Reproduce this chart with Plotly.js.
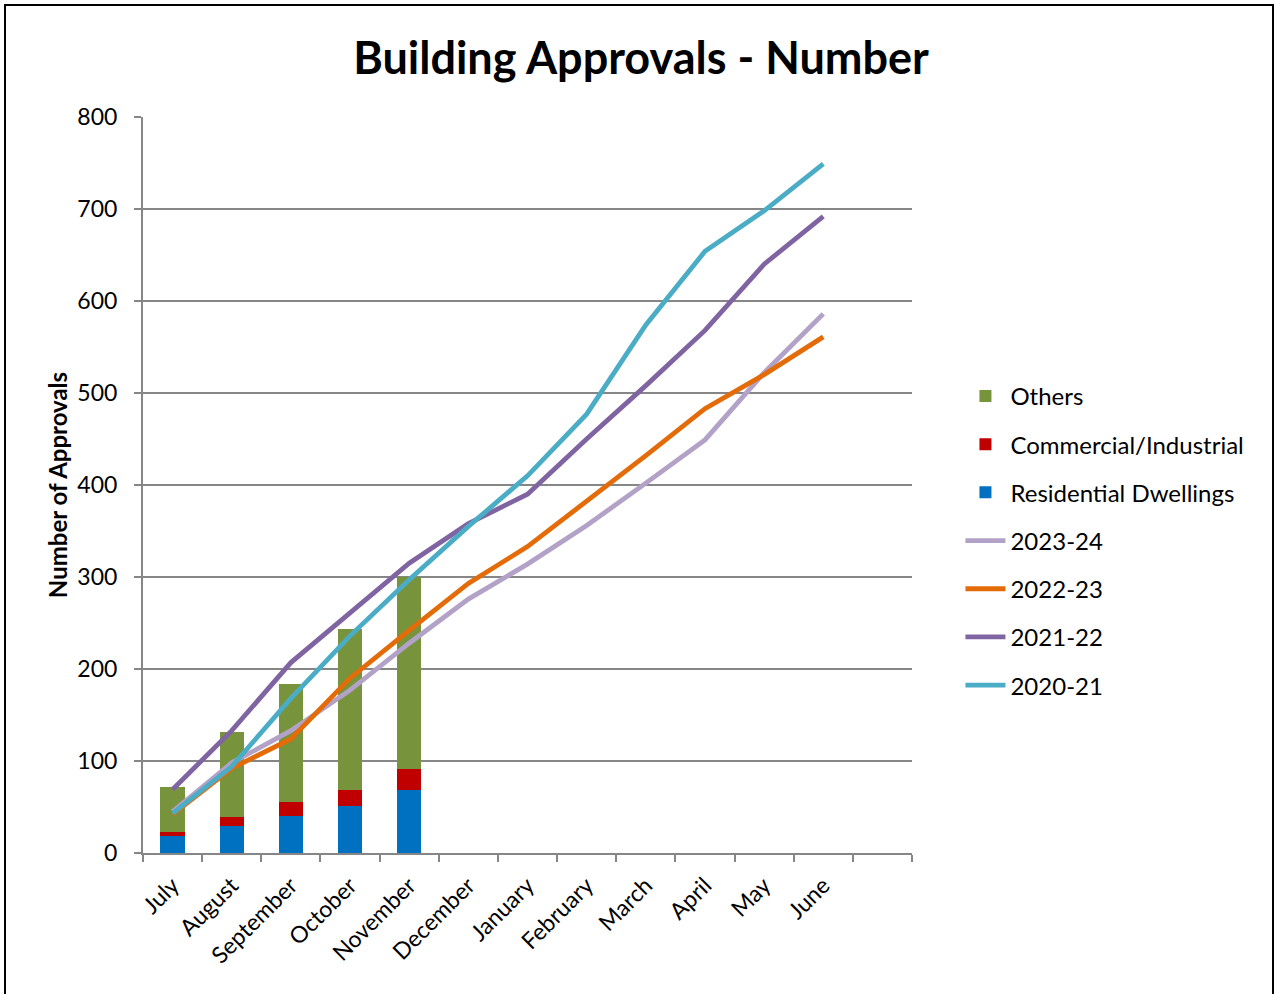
<!DOCTYPE html>
<html>
<head>
<meta charset="utf-8">
<script src="https://cdn.plot.ly/plotly-3.0.1.min.js"></script>
<style>
  html, body { margin: 0; padding: 0; background: #fff; }
  #wrap { position: relative; width: 1282px; height: 994px; overflow: hidden; }
  #chart { width: 1282px; height: 994px; }
  #frame { position: absolute; left: 4px; top: 4px; width: 1270px; height: 1010px;
           border: 2px solid #000; pointer-events: none; box-sizing: border-box; }
</style>
</head>
<body>
<div id="wrap">
  <div id="chart"></div>
  <div id="frame"></div>
</div>
<script>
// Categories (13 slots on the axis; last one empty)
const months = ["July", "August", "September", "October", "November", "December",
                "January", "February", "March", "April", "May", "June"];
const axisCategories = months.concat([" "]);

// Current year stacked bars (July - November)
const barMonths = ["July", "August", "September", "October", "November"];
const residential = [18, 29, 40, 51, 69];
const commercial  = [5, 10, 15, 18, 22];
const others      = [49, 92, 129, 175, 209];

// Cumulative lines by financial year
const fy2023_24 = [45, 98, 133, 177, 228, 276, 314, 356, 402, 449, 522, 586];
const fy2022_23 = [42, 92, 124, 190, 242, 293, 333, 382, 432, 483, 520, 561];
const fy2021_22 = [69, 133, 207, 261, 315, 358, 390, 450, 508, 568, 640, 692];
const fy2020_21 = [43, 94, 168, 236, 297, 355, 410, 477, 574, 654, 698, 749];

const yTicks = [0, 100, 200, 300, 400, 500, 600, 700, 800];

const FONT = "Lato, 'Open Sans', 'DejaVu Sans', sans-serif";
const GRID = "#868686";

function barTrace(name, y, color, rank) {
  return { type: "bar", name: name, x: barMonths, y: y,
           marker: { color: color, line: { width: 0 } },
           legendgroup: name, legendrank: rank, hoverinfo: "skip" };
}
function lineTrace(name, y, color, rank) {
  return { type: "scatter", mode: "lines", name: name, x: months, y: y,
           line: { color: color, width: 4.8 },
           legendgroup: name, legendrank: rank, hoverinfo: "skip" };
}

const data = [
  barTrace("Residential Dwellings", residential, "#0070C0", 3),
  barTrace("Commercial/Industrial", commercial, "#C00000", 2),
  barTrace("Others", others, "#77933C", 1),
  lineTrace("2023-24", fy2023_24, "#B3A2C7", 4),
  lineTrace("2022-23", fy2022_23, "#E36C09", 5),
  lineTrace("2021-22", fy2021_22, "#8064A2", 6),
  lineTrace("2020-21", fy2020_21, "#4BACC6", 7)
];

const layout = {
  width: 1282, height: 994,
  margin: { l: 143, r: 370, t: 117, b: 141, pad: 0 },
  paper_bgcolor: "#fff", plot_bgcolor: "#fff",
  font: { family: FONT, color: "#000", size: 22 },
  title: { text: "<b>Building Approvals - Number</b>", font: { family: FONT, size: 45, color: "#000" },
           x: 0.5, xref: "container", xanchor: "center",
           y: 1 - 58 / 994, yref: "container", yanchor: "middle" },
  barmode: "stack",
  bargap: 0.59,
  showlegend: true,
  legend: { x: 1.063, y: 0.651, xanchor: "left", yanchor: "top",
            traceorder: "grouped", tracegroupgap: 14,
            font: { family: FONT, size: 24, color: "#000" },
            bgcolor: "rgba(0,0,0,0)", itemwidth: 40 },
  xaxis: {
    type: "category", categoryorder: "array", categoryarray: axisCategories,
    range: [-0.5, 12.5], tickson: "boundaries",
    tickangle: -45, ticks: "outside", ticklen: 7, tickwidth: 2, tickcolor: GRID,
    ticklabelstandoff: 8,
    showline: true, linecolor: GRID, linewidth: 2, showgrid: false,
    tickfont: { family: FONT, size: 23, color: "#000" }, fixedrange: true
  },
  yaxis: {
    range: [0, 800], tickvals: yTicks, ticktext: yTicks.map(String),
    ticks: "outside", ticklen: 7, tickwidth: 2, tickcolor: GRID,
    ticklabelstandoff: 12,
    showline: true, linecolor: GRID, linewidth: 2,
    showgrid: true, gridcolor: GRID, gridwidth: 2, zeroline: false,
    tickfont: { family: FONT, size: 23, color: "#000" },
    title: { text: "<b>Number of Approvals</b>", font: { family: FONT, size: 24, color: "#000" }, standoff: 3 },
    fixedrange: true
  }
};

Plotly.newPlot("chart", data, layout, { staticPlot: true, displayModeBar: false });
</script>
</body>
</html>
